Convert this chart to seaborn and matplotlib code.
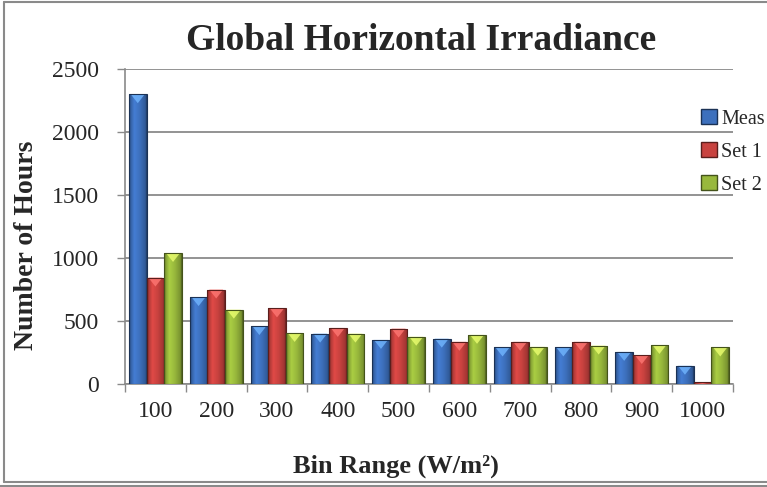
import numpy as np
import pandas as pd
import matplotlib
matplotlib.use("Agg")
import matplotlib.pyplot as plt
from matplotlib.lines import Line2D
from matplotlib.patches import Polygon
from matplotlib.ticker import FixedLocator
from matplotlib.colors import to_rgb
import seaborn as sns

# Hours per irradiance bin (W/m²)
bins = ["100", "200", "300", "400", "500", "600", "700", "800", "900", "1000"]
meas = [2300, 690, 460, 400, 350, 360, 290, 290, 255, 145]
set1 = [845, 750, 600, 445, 440, 335, 335, 335, 230, 15]
set2 = [1040, 590, 405, 400, 375, 390, 295, 305, 310, 290]
series = ["Meas", "Set 1", "Set 2"]
colors = ["#3d70bd", "#c8423f", "#98b83c"]

df = pd.DataFrame({
    "bin": bins * 3,
    "hours": meas + set1 + set2,
    "series": [s for s in series for _ in bins],
})

sns.set_theme(style="white")
plt.rcParams["font.family"] = ["Liberation Serif", "DejaVu Serif"]

W, H = 767, 487
fig = plt.figure(figsize=(W / 100, H / 100), dpi=100)
ax = fig.add_axes([125 / W, 103 / H, 608 / W, 315 / H])

sns.barplot(data=df, x="bin", y="hours", hue="series", palette=colors,
            saturation=1, width=0.87, ax=ax, legend=True, zorder=3)

ax.set_ylim(0, 2500)
ax.set_xlim(-0.5, len(bins) - 0.5)
ax.set_yticks(np.arange(0, 2501, 500))

grid_c = "#8a8a8a"
ax.yaxis.grid(True, color=grid_c, lw=1.3, zorder=0)
ax.set_axisbelow(True)
for side in ["top", "right"]:
    ax.spines[side].set_visible(False)
for side in ["left", "bottom"]:
    ax.spines[side].set_color(grid_c)
    ax.spines[side].set_linewidth(1.2)

ax.tick_params(axis="y", which="major", direction="out", length=6, width=1,
               color=grid_c, labelsize=17, pad=13, left=True)
ax.tick_params(axis="x", which="major", length=0, labelsize=17, pad=12)
ax.xaxis.set_minor_locator(FixedLocator(np.arange(-0.5, len(bins), 1.0)))
ax.tick_params(axis="x", which="minor", direction="out", length=6, width=1,
               color=grid_c, bottom=True)

ax.set_xlabel("Bin Range (W/m²)", fontsize=19, fontweight="bold", labelpad=24)
ax.set_ylabel("Number of Hours", fontsize=20, fontweight="bold", labelpad=9)
ax.xaxis.label.set_x(0.446)
ax.yaxis.label.set_y(0.44)
ax.set_title("Global Horizontal Irradiance", fontsize=27, fontweight="bold",
             pad=14, x=0.487)

# Bevelled shading on each bar
fig.canvas.draw()
prof_t = np.linspace(0, 1, 64)
prof_f = np.interp(prof_t, [0, 0.08, 0.3, 0.6, 0.92, 1.0],
                   [0.55, 0.85, 1.12, 1.0, 0.8, 0.5])
px_per_y = ax.transData.transform((0, 1))[1] - ax.transData.transform((0, 0))[1]
bars = [p for p in ax.patches if p.get_height() > 0 and p.get_width() < 1]
for p in bars:
    x0, w, h = p.get_x(), p.get_width(), p.get_height()
    base = np.array(to_rgb(p.get_facecolor()))
    img = np.clip(base[None, None, :] * prof_f[None, :, None], 0, 1)
    im = ax.imshow(img, extent=[x0, x0 + w, 0, h], aspect="auto",
                   interpolation="bilinear", zorder=3.1)
    im.set_clip_path(p)
    p.set_edgecolor(tuple(base * 0.45))
    p.set_linewidth(0.8)
    p.set_zorder(3.2)
    p.set_facecolor("none")
    tri_h = min(9 / px_per_y, h)
    light = tuple(np.clip(base * 1.35 + 0.12, 0, 1))
    ax.add_patch(Polygon([[x0 + 0.1 * w, h], [x0 + 0.9 * w, h],
                          [x0 + 0.5 * w, h - tri_h]], closed=True,
                         facecolor=light, edgecolor="none", alpha=0.8, zorder=3.15))
ax.set_ylim(0, 2500)
ax.set_xlim(-0.5, len(bins) - 0.5)

leg = ax.legend(loc="upper left", bbox_to_anchor=(701 / W, 1 - 109 / H),
                bbox_transform=fig.transFigure, frameon=False, fontsize=14.5,
                handlelength=0.8, handleheight=0.8, handletextpad=0.2,
                labelspacing=0.66, borderaxespad=0, borderpad=0)
for h, c in zip(leg.legend_handles, colors):
    h.set_facecolor(c)
    h.set_edgecolor(tuple(np.array(to_rgb(c)) * 0.45))

# Outer frame of the chart area
frame_c = "#8a8a8a"
fig.add_artist(Line2D([4 / W, 4 / W], [1 - 2 / H, 1 - 482 / H],
                      transform=fig.transFigure, color=frame_c, lw=1.5))
fig.add_artist(Line2D([4 / W, 1], [1 - 1.5 / H, 1 - 1.5 / H],
                      transform=fig.transFigure, color=frame_c, lw=1.5))
fig.add_artist(Line2D([4 / W, 1], [1 - 482 / H, 1 - 482 / H],
                      transform=fig.transFigure, color=frame_c, lw=1.5))
fig.add_artist(Line2D([0, 1], [1 - 486 / H, 1 - 486 / H],
                      transform=fig.transFigure, color=frame_c, lw=1.5))

fig.savefig("out.png", dpi=100)
